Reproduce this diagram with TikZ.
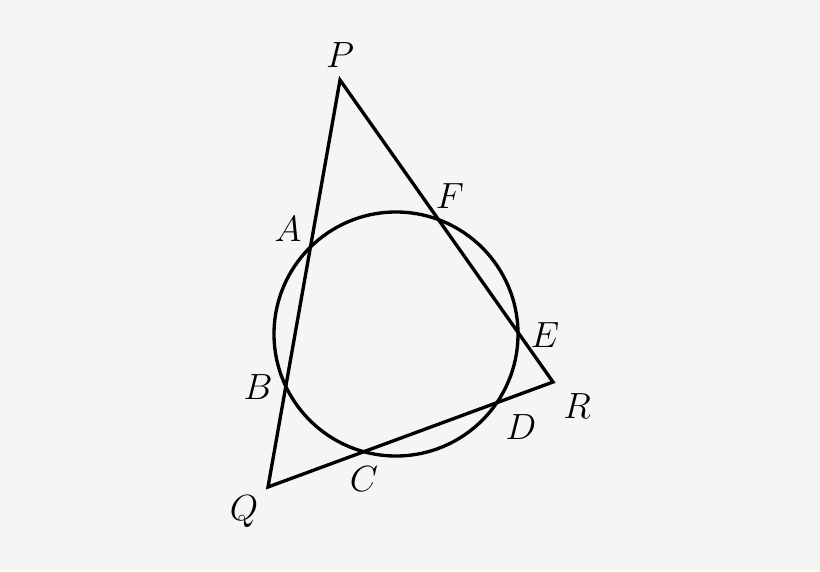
\documentclass[tikz,border=0pt]{standalone}
\usepackage{mathtools}

\begin{document}
\begin{tikzpicture}
  [line width=1.9pt, line join=miter,
   lbl/.style={inner sep=0pt, font=\fontsize{20.5}{24}\selectfont}]
  \fill[black!4] (0,0) rectangle (16.4,11.42);
  % triangle vertices
  \coordinate (P) at (6.8,9.82);
  \coordinate (Q) at (5.36,1.68);
  \coordinate (R) at (11.06,3.78);
  \coordinate (O) at (7.92,4.74);
  \draw (P) -- (Q) -- (R) -- cycle;
  \draw (O) circle (2.44);
  % labels
  \node[lbl] (lP) at (6.8,10.32) {$P$};
  \node[lbl] (lQ) at (4.88,1.18) {$Q$};
  \node[lbl] (lR) at (11.54,3.3) {$R$};
  \node[lbl] (lA) at (5.76,6.84) {$A$};
  \node[lbl] (lB) at (5.16,3.68) {$B$};
  \node[lbl] (lC) at (7.28,1.84) {$C$};
  \node[lbl] (lD) at (10.42,2.88) {$D$};
  \node[lbl] (lE) at (10.9,4.72) {$E$};
  \node[lbl] (lF) at (9.0,7.5) {$F$};
\end{tikzpicture}
\end{document}
